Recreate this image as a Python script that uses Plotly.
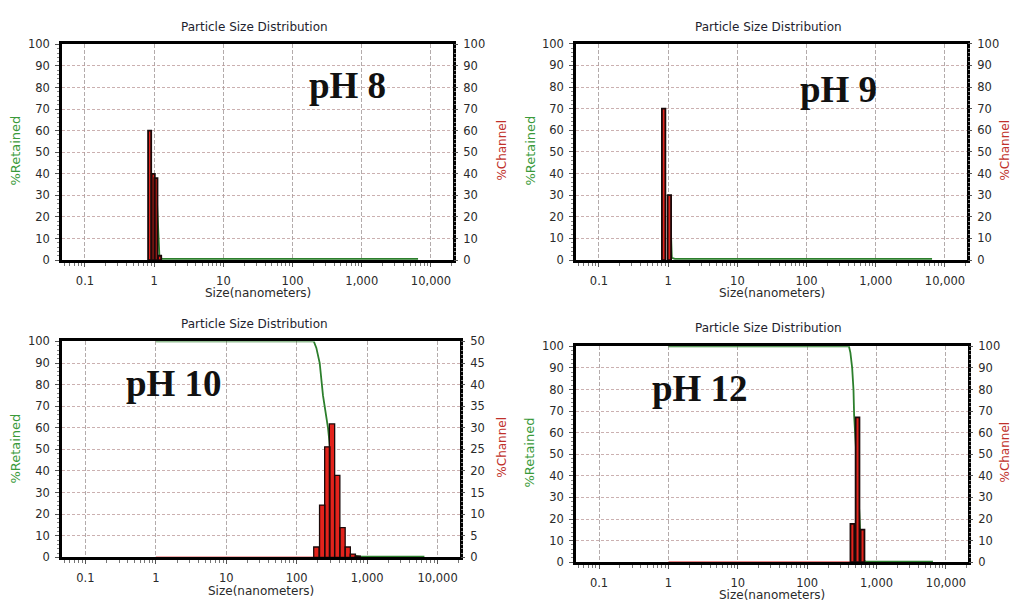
import plotly.graph_objects as go

W, H = 1013, 609

# ---------------- data ----------------
ph_labels = ["pH 8", "pH 9", "pH 10", "pH 12"]

# %Channel histograms (bar centre size in nm, value in %)
size_ph8 = [0.86, 0.97, 1.06, 1.20]
chan_ph8 = [60, 40, 38, 2]
size_ph9 = [0.86, 1.04]
chan_ph9 = [70, 30]
size_ph10 = [190, 230, 272, 317, 376, 447, 530, 625, 735]
chan_ph10 = [2.4, 12.1, 25.6, 30.9, 19.0, 6.9, 2.4, 0.75, 0.3]
size_ph12 = [448, 532, 628]
chan_ph12 = [17.8, 67.1, 15.1]

# %Retained (cumulative) curves
ret_size_ph8 = [1.06, 1.19, 1.3, 6500]
ret_ph8 = [38, 2, 0.5, 0.5]
ret_size_ph9 = [1.05, 1.13, 1.25, 6500]
ret_ph9 = [30, 1, 0.5, 0.5]
ret_size_ph10 = [1, 175, 190, 212, 236, 278, 310, 350, 420, 500, 600, 800, 6500]
ret_ph10 = [100, 100, 97, 90, 75, 60, 45, 25, 9, 3, 1, 0.3, 0.3]
ret_size_ph12 = [1, 400, 420, 445, 465, 475, 540, 590, 630, 700, 6500]
ret_ph12 = [100, 100, 97, 90, 80, 68, 36, 10, 1, 0.3, 0.3]

x_tickvals = [0.1, 1, 10, 100, 1000, 10000]
x_ticktext = ["0.1", "1", "10", "100", "1,000", "10,000"]
right_max = [100, 100, 50, 100]

panels = [
    dict(size=size_ph8, chan=chan_ph8, rs=ret_size_ph8, r=ret_ph8, bw=0.045, base=None, lw=1.8),
    dict(size=size_ph9, chan=chan_ph9, rs=ret_size_ph9, r=ret_ph9, bw=0.05, base=None, lw=1.8),
    dict(size=size_ph10, chan=chan_ph10, rs=ret_size_ph10, r=ret_ph10, bw=0.075, base=(1, 174), lw=1.3),
    dict(size=size_ph12, chan=chan_ph12, rs=ret_size_ph12, r=ret_ph12, bw=0.055, base=(1, 430), lw=1.8),
]

# ---------------- geometry (pixels) ----------------
geo = [
    dict(l=62, r=453, t=38.3, b=259, title=(254, 20), xt=(258, 293), lt=(16, 147), rt=(502, 147), ph=(347, 80)),
    dict(l=576, r=967, t=37.7, b=259, title=(768, 20), xt=(772, 293), lt=(531, 147), rt=(1005, 147), ph=(838, 84)),
    dict(l=62, r=460, t=342.3, b=563.3, title=(254, 324), xt=(261, 598), lt=(16, 452), rt=(502, 451), ph=(174, 385)),
    dict(l=576, r=968, t=347.3, b=568.3, title=(768, 329), xt=(772, 602), lt=(530, 456), rt=(1005, 456), ph=(700, 390)),
]

def px(x):
    return x / W

def py(y):
    return 1 - y / H

GRID = "rgba(185,150,150,0.75)"
TICKFONT = dict(family="DejaVu Sans", size=11.5, color="#2a2a2a")
minor_vals = [m * 10 ** k for k in range(-2, 5) for m in range(2, 10)]

fig = go.Figure()
annotations = []
layout = {}

for i, (p, g) in enumerate(zip(panels, geo)):
    xa = "x" if i == 0 else f"x{i+1}"
    yl_n = 2 * i + 1
    yr_n = 2 * i + 2
    yl = "y" if yl_n == 1 else f"y{yl_n}"
    yr = f"y{yr_n}"

    # red baseline of %Channel
    if p["base"] is not None:
        fig.add_trace(go.Scatter(x=list(p["base"]), y=[0.15 * right_max[i] / 100] * 2, mode="lines",
                                 line=dict(color="#e05a5a", width=1.2), xaxis=xa, yaxis=yr,
                                 showlegend=False, hoverinfo="skip"))

    # %Channel bars as closed polygons in log space
    half = 10 ** (p["bw"] / 2)
    bx, by = [], []
    for s, v in zip(p["size"], p["chan"]):
        lo, hi = s / half, s * half
        bx += [lo, lo, hi, hi, lo, None]
        by += [0, v, v, 0, 0, None]
    fig.add_trace(go.Scatter(x=bx, y=by, mode="lines", fill="toself", fillcolor="#e3231c",
                             line=dict(color="#1a0a0a", width=p["lw"]), xaxis=xa, yaxis=yr,
                             showlegend=False, hoverinfo="skip"))

    # %Retained curve
    fig.add_trace(go.Scatter(x=p["rs"], y=p["r"], mode="lines",
                             line=dict(color="#2c7f2c", width=1.8), xaxis=xa, yaxis=yl,
                             showlegend=False, hoverinfo="skip"))

    xdom = [px(g["l"]), px(g["r"])]
    ydom = [py(g["b"]), py(g["t"])]
    xkey = "xaxis" if i == 0 else f"xaxis{i+1}"
    ylkey = "yaxis" if yl_n == 1 else f"yaxis{yl_n}"
    yrkey = f"yaxis{yr_n}"

    layout[xkey] = dict(
        type="log", domain=xdom, anchor=yl, range=[-1.332, 4.318],
        tickmode="array", tickvals=x_tickvals, ticktext=x_ticktext,
        showgrid=True, gridcolor="rgba(160,150,150,0.8)", griddash="4px,2px", gridwidth=1,
        showline=True, linecolor="black", linewidth=2.5, mirror=True,
        ticks="outside", ticklen=4, tickcolor="#555", tickfont=TICKFONT,
        ticklabelstandoff=4,
        minor=dict(tickmode="array", tickvals=minor_vals, ticks="outside", ticklen=3,
                   tickcolor="#777", showgrid=False),
        zeroline=False,
    )
    layout[ylkey] = dict(
        domain=ydom, anchor=xa, range=[0, 100], tickmode="linear", tick0=0, dtick=10,
        showgrid=True, gridcolor=GRID, griddash="3px,2px", gridwidth=1,
        showline=True, linecolor="black", linewidth=2.5, mirror=True,
        ticks="outside", ticklen=4, tickcolor="#555", tickfont=TICKFONT,
        ticklabelstandoff=3,
        minor=dict(dtick=2, ticks="outside", ticklen=2, tickcolor="#888", showgrid=False),
        zeroline=False,
    )
    rmax = right_max[i]
    layout[yrkey] = dict(
        domain=ydom, anchor=xa, overlaying=yl, side="right", range=[0, rmax],
        tickmode="linear", tick0=0, dtick=rmax / 10,
        showgrid=False, showline=False, zeroline=False,
        ticks="outside", ticklen=4, tickcolor="#555", tickfont=TICKFONT,
        ticklabelstandoff=3,
        minor=dict(dtick=rmax / 50, ticks="outside", ticklen=2, tickcolor="#888", showgrid=False),
    )

    annotations += [
        dict(text="Particle Size Distribution", x=px(g["title"][0]), y=py(g["title"][1]),
             xref="paper", yref="paper", showarrow=False, xanchor="center", yanchor="middle",
             font=dict(family="DejaVu Sans", size=12, color="#1e1e2e")),
        dict(text="Size(nanometers)", x=px(g["xt"][0]), y=py(g["xt"][1]),
             xref="paper", yref="paper", showarrow=False, xanchor="center", yanchor="middle",
             font=dict(family="DejaVu Sans", size=12, color="#2a2a2a")),
        dict(text="%Retained", x=px(g["lt"][0]), y=py(g["lt"][1]), textangle=-90,
             xref="paper", yref="paper", showarrow=False, xanchor="center", yanchor="middle",
             font=dict(family="DejaVu Sans", size=13, color="#3a9a3a")),
        dict(text="%Channel", x=px(g["rt"][0]), y=py(g["rt"][1]), textangle=-90,
             xref="paper", yref="paper", showarrow=False, xanchor="center", yanchor="middle",
             font=dict(family="DejaVu Sans", size=12, color="#c0302a")),
        dict(text="<b>%s</b>" % ph_labels[i], x=px(g["ph"][0]), y=py(g["ph"][1]),
             xref="paper", yref="paper", showarrow=False, xanchor="center", yanchor="middle",
             font=dict(family="Liberation Serif", size=37, color="#111")),
    ]

fig.update_layout(
    width=W, height=H, margin=dict(l=0, r=0, t=0, b=0),
    paper_bgcolor="white", plot_bgcolor="white",
    annotations=annotations, showlegend=False,
    **layout,
)

fig.write_html("out.html")
